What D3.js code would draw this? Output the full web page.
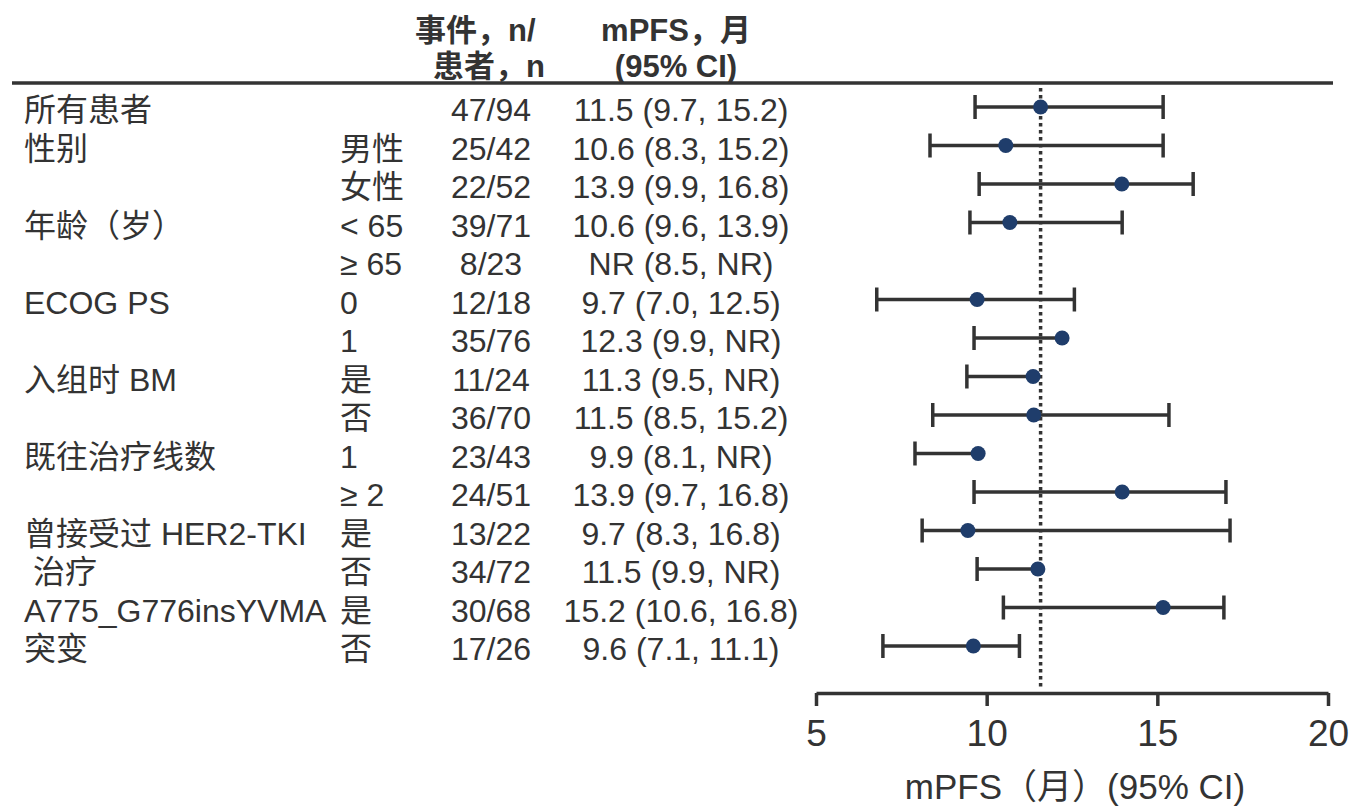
<!DOCTYPE html>
<meta charset="utf-8">
<body style="margin:0;background-color:white;">
<svg width="1350" height="807"></svg>
<script src="https://d3js.org/d3.v7.min.js"></script>
<script>

// row labels
var groups = ["所有患者", "性别", "", "年龄（岁）", "", "ECOG PS", "", "入组时 BM", "",
				"既往治疗线数", "", "曾接受过 HER2-TKI", " 治疗", "A775_G776insYVMA", "突变"];
var subgroups = ["", "男性", "女性", "< 65", "≥ 65", "0", "1", "是", "否",
				"1", "≥ 2", "是", "否", "是", "否"];
var events = ["47/94", "25/42", "22/52", "39/71", "8/23", "12/18", "35/76", "11/24",
				"36/70", "23/43", "24/51", "13/22", "34/72", "30/68", "17/26"];
var ciLabels = ["11.5 (9.7, 15.2)", "10.6 (8.3, 15.2)", "13.9 (9.9, 16.8)", "10.6 (9.6, 13.9)",
				"NR (8.5, NR)", "9.7 (7.0, 12.5)", "12.3 (9.9, NR)", "11.3 (9.5, NR)",
				"11.5 (8.5, 15.2)", "9.9 (8.1, NR)", "13.9 (9.7, 16.8)", "9.7 (8.3, 16.8)",
				"11.5 (9.9, NR)", "15.2 (10.6, 16.8)", "9.6 (7.1, 11.1)"];
// plotted marks, null = NR (not drawn)
var plotEst  = [11.58, 10.56, 13.96, 10.68, null, 9.72, 12.21, 11.36, 11.38, 9.75, 13.97, 9.45, 11.50, 15.17, 9.61];
var plotLow  = [9.66, 8.34, 9.78, 9.51, null, 6.78, 9.63, 9.42, 8.42, 7.90, 9.63, 8.11, 9.72, 10.49, 6.96];
var plotHigh = [15.17, 15.17, 16.05, 13.97, null, 12.57, null, null, 15.34, null, 17.01, 17.13, null, 16.95, 10.96];
var refLine = 11.58;
var xTicks = [5, 10, 15, 20];

var textColor = '#333';
var font = '"Liberation Sans", Arial, "Noto Sans CJK SC", sans-serif';

var svg = d3.select("svg");

var x = d3.scaleLinear().domain([5, 20]).range([816, 1328]);
var y = d3.scalePoint().domain(d3.range(groups.length)).range([107, 646]);

// header
var header = svg.append('g')
				.style('font-family', font)
				.style('font-weight', 'bold')
				.style('font-size', '31px')
				.attr('fill', textColor);
header.append('text').attr('x', 415).attr('y', 41).text('事件，n/');
header.append('text').attr('x', 433).attr('y', 77).text('患者，n');
header.append('text').attr('x', 676).attr('y', 41).attr('text-anchor', 'middle').text('mPFS，月');
header.append('text').attr('x', 676).attr('y', 77).attr('text-anchor', 'middle').text('(95% CI)');

svg.append('line')
	.attr('x1', 12).attr('x2', 1333)
	.attr('y1', 83).attr('y2', 83)
	.attr('stroke', textColor)
	.attr('stroke-width', 3.5);

// table columns
var table = svg.append('g')
				.style('font-family', font)
				.style('font-size', '32px')
				.attr('fill', textColor);

groups.forEach(function(g, i) {
	var yy = y(i) + 14;
	table.append('text').attr('x', 24).attr('y', yy).attr('xml:space', 'preserve').text(g);
	table.append('text').attr('x', 340).attr('y', yy).text(subgroups[i]);
	table.append('text').attr('x', 491).attr('y', yy).attr('text-anchor', 'middle').text(events[i]);
	table.append('text').attr('x', 681).attr('y', yy).attr('text-anchor', 'middle').text(ciLabels[i]);
});

// reference line
svg.append('line')
	.attr('x1', x(refLine)).attr('x2', x(refLine))
	.attr('y1', 88).attr('y2', 690)
	.attr('stroke', textColor)
	.attr('stroke-width', 3.5)
	.attr('stroke-dasharray', '3.5,3.5');

// error bars + points
var bars = svg.append('g');
plotEst.forEach(function(m, i) {
	if (m === null) return;
	var hi = plotHigh[i] === null ? m : plotHigh[i];
	var yy = y(i);
	bars.append('line')
		.attr('x1', x(plotLow[i])).attr('x2', x(hi))
		.attr('y1', yy).attr('y2', yy)
		.attr('stroke', textColor).attr('stroke-width', 3.5);
	bars.append('line')
		.attr('x1', x(plotLow[i])).attr('x2', x(plotLow[i]))
		.attr('y1', yy - 12).attr('y2', yy + 12)
		.attr('stroke', textColor).attr('stroke-width', 3.5);
	if (plotHigh[i] !== null) {
		bars.append('line')
			.attr('x1', x(hi)).attr('x2', x(hi))
			.attr('y1', yy - 12).attr('y2', yy + 12)
			.attr('stroke', textColor).attr('stroke-width', 3.5);
	}
	bars.append('circle')
		.attr('cx', x(m)).attr('cy', yy)
		.attr('r', 7.5)
		.attr('fill', '#1f3d6b');
});

// x axis
var axis = svg.append('g')
				.attr('transform', 'translate(0,693)')
				.call(d3.axisBottom(x).tickValues(xTicks).tickSize(13).tickPadding(14).tickSizeOuter(0));
axis.select('.domain').attr('stroke', textColor).attr('stroke-width', 3.5);
axis.selectAll('.tick line').attr('stroke', textColor).attr('stroke-width', 3.5);
axis.selectAll('.tick text')
	.attr('fill', textColor)
	.style('font-family', font)
	.style('font-size', '37px');

svg.append('text')
	.attr('x', 1075).attr('y', 799)
	.attr('text-anchor', 'middle')
	.attr('fill', textColor)
	.style('font-family', font)
	.style('font-size', '35px')
	.text('mPFS（月）(95% CI)');

</script>
</body>
